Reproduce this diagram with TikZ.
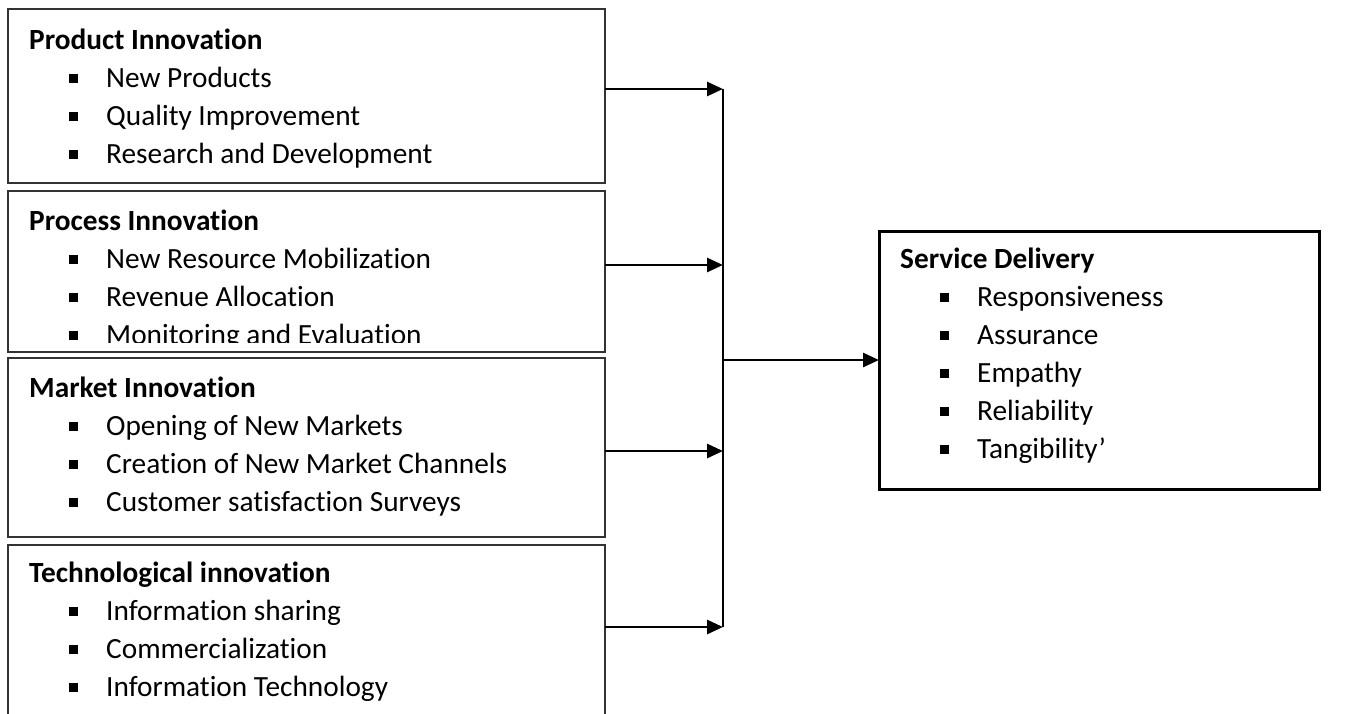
\documentclass[tikz,border=0pt]{standalone}
\usepackage{fontspec}
\setmainfont{Carlito}[Ligatures=NoCommon]
\usetikzlibrary{arrows.meta}
\newcommand{\bul}{\hspace*{40pt}\rule[4.5pt]{8.5pt}{8.5pt}\hspace*{28.5pt}}
\tikzset{
  inbox/.style={draw=black!80, line width=1.6pt, anchor=north west, inner sep=0pt, outer sep=0pt, minimum width=597pt},
  outbox/.style={draw, line width=3pt, anchor=north west, inner sep=0pt, outer sep=0pt, minimum width=440pt, minimum height=258pt},
  txt/.style={anchor=base west, align=left, inner sep=0pt, font=\fontsize{29.3}{38}\selectfont},
  feed/.style={-{Triangle[length=16pt,width=14pt]}, line width=2.8pt},
}
\begin{document}
\begin{tikzpicture}[x=1pt, y=-1pt]
  \clip (0,0) rectangle (1346,713);
  % Boxes
  \node (prod) [inbox, minimum height=174pt] at (8,9) {};
  \node (proc) [inbox, minimum height=161pt] at (8,191) {};
  \node (mark) [inbox, minimum height=179pt] at (8,358) {};
  \node (tech) [inbox, minimum height=190pt] at (8,545) {};
  \node (serv) [outbox] at (879,231) {};
  % Texts (anchored at the baseline of the last line)
  \node (prodtxt) [txt] at (29,163) {\textbf{Product Innovation}\\\bul New Products\\\bul Quality Improvement\\\bul Research and Development};
  \begin{scope}
    \clip (8,191) rectangle (605,342);
    \node (proctxt) [txt] at (29,344) {\textbf{Process Innovation}\\\bul New Resource Mobilization\\\bul Revenue Allocation\\\bul Monitoring and Evaluation};
  \end{scope}
  \node (marktxt) [txt] at (29,511) {\textbf{Market Innovation}\\\bul Opening of New Markets\\\bul Creation of New Market Channels\\\bul Customer satisfaction Surveys};
  \node (techtxt) [txt] at (29,696) {\textbf{Technological innovation}\\\bul Information sharing\\\bul Commercialization\\\bul Information Technology};
  \node (servtxt) [txt] at (900,458) {\textbf{Service Delivery}\\\bul Responsiveness\\\bul Assurance\\\bul Empathy\\\bul Reliability\\\bul Tangibility’};
  % Joints
  \coordinate (j1) at (723,89);
  \coordinate (j2) at (723,265);
  \coordinate (j3) at (723,451);
  \coordinate (j4) at (723,627);
  \coordinate (jm) at (723,360);
  % Arrows
  \draw[feed] (prod.east |- j1) -- (j1);
  \draw[feed] (proc.east |- j2) -- (j2);
  \draw[feed] (mark.east |- j3) -- (j3);
  \draw[feed] (tech.east |- j4) -- (j4);
  \draw[line width=1.5pt] (j1) -- (j4);
  \draw[feed] (jm) -- (serv.west |- jm);
\end{tikzpicture}
\end{document}
